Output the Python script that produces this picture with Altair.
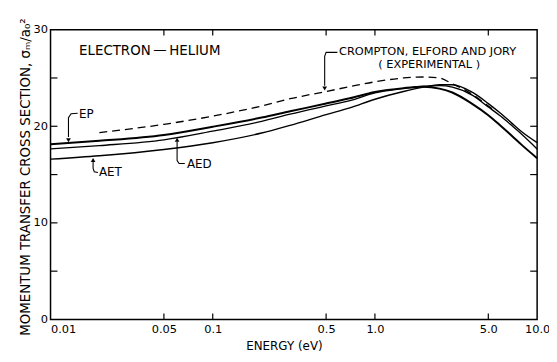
import altair as alt
import pandas as pd

# ---- data ----
energy = [0.01, 0.02, 0.05, 0.1, 0.2, 0.3, 0.5, 0.7, 1.0, 1.5, 2.0, 2.5, 3.0, 4.0, 5.0, 6.0, 7.0, 8.0, 10.0]
ep  = [18.15, 18.5, 19.1, 19.95, 20.9, 21.55, 22.35, 22.9, 23.55, 23.95, 24.1, 23.9, 23.5, 22.3, 21.15, 20.0, 19.0, 18.1, 16.7]
aed = [17.65, 18.0, 18.6, 19.5, 20.5, 21.25, 22.1, 22.65, 23.45, 23.9, 24.15, 24.2, 24.05, 23.2, 22.0, 21.0, 20.05, 19.2, 17.65]
aet = [16.6, 16.95, 17.6, 18.3, 19.3, 20.1, 21.2, 21.9, 22.8, 23.6, 24.05, 24.3, 24.3, 23.5, 22.35, 21.3, 20.3, 19.45, 18.3]
exp_energy = [0.02, 0.05, 0.1, 0.2, 0.3, 0.5, 0.7, 1.0, 1.5, 2.0, 2.5, 3.0, 4.0, 5.0, 5.5]
exp_value = [19.35, 20.2, 21.05, 22.1, 22.85, 23.6, 24.1, 24.6, 25.0, 25.1, 25.0, 24.4, 23.3, 22.1, 21.6]

x_labels = [0.01, 0.05, 0.1, 0.5, 1.0, 5.0, 10.0]
x_inner_ticks = [0.05, 0.1, 0.5, 1.0, 5.0]
y_labels = [0, 10, 20, 30]
y_inner_ticks = [5, 10, 15, 20, 25]

# annotation labels (energy, value)
label_text = ["EP", "AET", "AED"]
label_e = [0.0150, 0.0199, 0.0694]
label_v = [21.26, 15.22, 16.13]
title_text = "ELECTRON\u2009\u2014\u2009HELIUM"
title_e, title_v = 0.0150, 27.8
cej_text = "CROMPTON, ELFORD AND JORY"
cej_e, cej_v = 0.600, 27.65
sub_text = "( EXPERIMENTAL )"
sub_e, sub_v = 2.16, 26.3

# leader lines
lead_id = ["EP"] * 4 + ["AET"] * 4 + ["AED"] * 4 + ["CEJ"] * 4
lead_e = [0.0147, 0.0134, 0.0129, 0.0129,
          0.0196, 0.0186, 0.0183, 0.0183,
          0.0673, 0.0620, 0.0603, 0.0603,
          0.587, 0.500, 0.490, 0.490]
lead_v = [21.35, 21.3, 20.9, 18.9,
          15.22, 15.3, 15.63, 16.3,
          16.14, 16.14, 16.45, 18.4,
          27.65, 27.65, 27.25, 24.2]
arrow_e = [0.0129, 0.0183, 0.0603, 0.490]
arrow_v = [18.55, 16.5, 18.6, 23.9]
arrow_shape = ["triangle-down", "triangle-up", "triangle-up", "triangle-down"]

FONT = "DejaVu Sans"
W, H = 492, 293

curves = pd.DataFrame({"e": energy, "EP": ep, "AED": aed, "AET": aet})
exp_df = pd.DataFrame({"e": exp_energy, "v": exp_value})

xscale = alt.Scale(type="log", domain=[0.01, 10], nice=False)
yscale = alt.Scale(domain=[0, 30], nice=False, zero=False)

xaxis = alt.Axis(
    values=x_labels,
    labelExpr="datum.value >= 1 ? format(datum.value, '.1f') : format(datum.value, '~g')",
    ticks=False, domain=False, grid=False, labelFlush=False,
    labelAlign={"condition": {"test": "datum.value < 0.011", "value": "left"}, "value": "center"},
    labelFont=FONT, labelFontSize=11.5, labelColor="black", labelPadding=4,
    title="ENERGY (eV)", titleFont=FONT, titleFontSize=12, titleFontWeight="normal",
    titleColor="black", titleX=236, titleY=21, titleAlign="center", titleBaseline="top",
)
yaxis = alt.Axis(
    values=y_labels, ticks=False, domain=False, grid=False, labelFlush=False,
    labelFont=FONT, labelFontSize=11.5, labelColor="black", labelPadding=3,
    title="MOMENTUM TRANSFER CROSS SECTION, \u03c3\u2098/a\u2080\u00b2",
    titleFont=FONT, titleFontSize=13.5, titleFontWeight="normal", titleColor="black",
    titleX=-25, titleY=H / 2 + 2, titleAngle=-90, titleAlign="center", titleBaseline="middle",
)


def X(field):
    return alt.X(field, type="quantitative", scale=xscale, axis=xaxis)


def Y(field):
    return alt.Y(field, type="quantitative", scale=yscale, axis=yaxis)


layers = []
for name, sw in [("EP", 2.0), ("AED", 1.3), ("AET", 1.4)]:
    layers.append(
        alt.Chart(curves).mark_line(color="black", strokeWidth=sw, interpolate="monotone")
        .encode(x=X("e"), y=Y(name))
    )
layers.append(
    alt.Chart(exp_df).mark_line(color="black", strokeWidth=1.3, strokeDash=[8, 5], interpolate="monotone")
    .encode(x=X("e"), y=Y("v"))
)

xt = pd.DataFrame({"t": x_inner_ticks})
yt = pd.DataFrame({"t": y_inner_ticks})
layers += [
    alt.Chart(xt).mark_rule(color="black", strokeWidth=1.2).encode(x=X("t"), y=alt.value(H), y2=alt.value(H - 6)),
    alt.Chart(xt).mark_rule(color="black", strokeWidth=1.2).encode(x=X("t"), y=alt.value(0), y2=alt.value(6)),
    alt.Chart(yt).mark_rule(color="black", strokeWidth=1.2).encode(y=Y("t"), x=alt.value(0), x2=alt.value(7)),
    alt.Chart(yt).mark_rule(color="black", strokeWidth=1.2).encode(y=Y("t"), x=alt.value(W), x2=alt.value(W - 7)),
]

lead_df = pd.DataFrame({"id": lead_id, "e": lead_e, "v": lead_v, "o": list(range(len(lead_id)))})
layers.append(
    alt.Chart(lead_df).mark_line(color="black", strokeWidth=1.1)
    .encode(x=X("e"), y=Y("v"), detail="id:N", order="o:Q")
)
arr_df = pd.DataFrame({"e": arrow_e, "v": arrow_v, "s": arrow_shape})
for shp in ["triangle-down", "triangle-up"]:
    layers.append(
        alt.Chart(arr_df[arr_df.s == shp]).mark_point(shape=shp, filled=True, color="black", size=22, opacity=1)
        .encode(x=X("e"), y=Y("v"))
    )

lab_df = pd.DataFrame({"text": label_text, "e": label_e, "v": label_v})
layers.append(
    alt.Chart(lab_df).mark_text(font=FONT, fontSize=12, align="left", baseline="middle", color="black")
    .encode(x=X("e"), y=Y("v"), text="text:N")
)
layers.append(
    alt.Chart(pd.DataFrame({"text": [title_text], "e": [title_e], "v": [title_v]}))
    .mark_text(font=FONT, fontSize=13.5, align="left", baseline="middle", color="black")
    .encode(x=X("e"), y=Y("v"), text="text:N")
)
layers.append(
    alt.Chart(pd.DataFrame({"text": [cej_text], "e": [cej_e], "v": [cej_v]}))
    .mark_text(font=FONT, fontSize=11.5, align="left", baseline="middle", color="black")
    .encode(x=X("e"), y=Y("v"), text="text:N")
)
layers.append(
    alt.Chart(pd.DataFrame({"text": [sub_text], "e": [sub_e], "v": [sub_v]}))
    .mark_text(font=FONT, fontSize=11.5, align="center", baseline="middle", color="black")
    .encode(x=X("e"), y=Y("v"), text="text:N")
)

chart = (
    alt.layer(*layers)
    .properties(
        width=W, height=H,
        autosize=alt.AutoSizeParams(type="none"),
        padding={"left": 43, "top": 20, "right": 12, "bottom": 33},
        background="white",
    )
    .configure_view(stroke="black", strokeWidth=1.5)
)

chart.save("out.html", embed_options={"renderer": "svg", "actions": False})
